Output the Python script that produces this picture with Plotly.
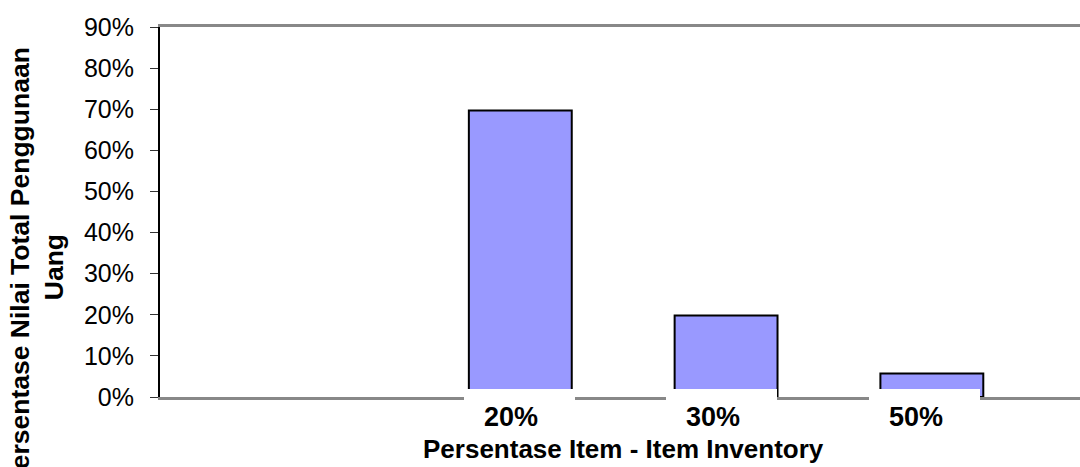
import plotly.graph_objects as go

# ABC inventory split: share of items vs share of total money usage
categories = ["20%", "30%", "50%"]
usage_share = [0.697, 0.198, 0.057]

y_ticks = [0.0, 0.1, 0.2, 0.3, 0.4, 0.5, 0.6, 0.7, 0.8, 0.9]

x_title = "Persentase Item - Item Inventory"
y_title = "Persentase Nilai Total Penggunaan<br>Uang"

FONT = "Liberation Sans, Arial, sans-serif"
W, H = 1080, 467
M_L, M_R, M_T, M_B = 160, 0, 27, 70
plot_w = W - M_L - M_R
plot_h = H - M_T - M_B


def px_to_paper_x(px):
    return (px - M_L) / plot_w


def px_to_paper_y(py):
    return (H - M_B - py) / plot_h


fig = go.Figure(
    go.Bar(
        x=categories,
        y=usage_share,
        width=0.5,
        marker=dict(color="#9999FF", line=dict(color="#000000", width=2)),
        hoverinfo="x+y",
    )
)

fig.update_layout(
    width=W,
    height=H,
    margin=dict(l=M_L, r=M_R, t=M_T, b=M_B),
    paper_bgcolor="white",
    plot_bgcolor="white",
    showlegend=False,
    font=dict(family=FONT, color="#000000"),
    xaxis=dict(
        type="category",
        range=[-1.751, 2.720],
        showticklabels=False,
        ticks="",
        showgrid=False,
        zeroline=False,
        showline=True,
        mirror=True,
        linecolor="#888888",
        linewidth=2.5,
    ),
    # helper axis that spaces the category labels under the bars
    xaxis2=dict(
        type="linear",
        overlaying="x",
        range=[-1.731, 2.812],
        visible=False,
    ),
    yaxis=dict(
        range=[0, 0.9],
        tickvals=y_ticks,
        tickformat=".0%",
        ticks="outside",
        ticklen=8,
        tickwidth=1,
        tickcolor="#333333",
        ticklabelstandoff=11,
        tickfont=dict(size=25, family=FONT, color="#000000"),
        showgrid=False,
        zeroline=False,
        showline=True,
        linecolor="#000000",
        linewidth=2,
    ),
)

annotations = []
# white label plates that sit over the bar bases and the axis line
for i, _ in enumerate(categories):
    annotations.append(dict(
        x=i, xref="x2", xshift=8.5,
        y=px_to_paper_y(388.5), yref="paper",
        xanchor="center", yanchor="top",
        text=" ", showarrow=False,
        width=111, height=50,
        bgcolor="white", borderwidth=0, borderpad=0,
    ))
# category labels
for i, cat in enumerate(categories):
    annotations.append(dict(
        x=i, xref="x2",
        y=px_to_paper_y(417), yref="paper",
        xanchor="center", yanchor="middle",
        text=f"<b>{cat}</b>", showarrow=False,
        font=dict(size=27, family=FONT, color="#000000"),
    ))
# axis titles
annotations.append(dict(
    x=px_to_paper_x(623.5), xref="paper",
    y=px_to_paper_y(449), yref="paper",
    xanchor="center", yanchor="middle",
    text=f"<b>{x_title}</b>", showarrow=False,
    font=dict(size=26, family=FONT, color="#000000"),
))
annotations.append(dict(
    x=px_to_paper_x(37), xref="paper",
    y=px_to_paper_y(267), yref="paper",
    xanchor="center", yanchor="middle",
    text=f"<b>{y_title}</b>", showarrow=False, textangle=-90,
    font=dict(size=26.5, family=FONT, color="#000000"),
))
fig.update_layout(annotations=annotations)

fig.write_html("out.html")
